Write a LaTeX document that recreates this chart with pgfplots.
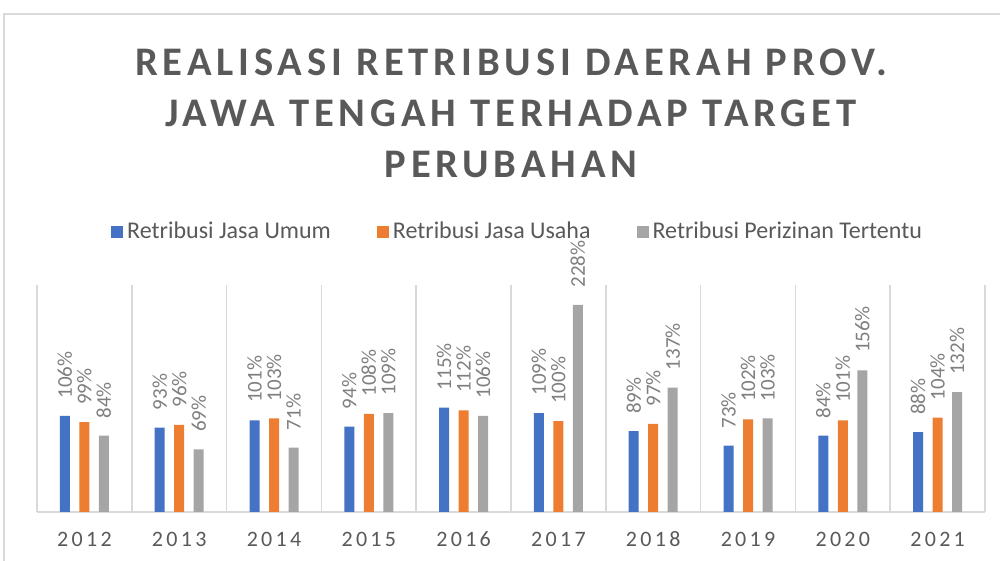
\documentclass[border=0pt]{standalone}
\usepackage{fontspec}
\setmainfont{Carlito}
\newfontfamily\titlefont[LetterSpace=12]{Carlito}
\newfontfamily\tickfont[LetterSpace=15]{Carlito}
\usepackage{pgfplots}
\pgfplotsset{compat=1.18}
\definecolor{cblue}{HTML}{4472C4}
\definecolor{corange}{HTML}{ED7D31}
\definecolor{cgray}{HTML}{A5A5A5}
\definecolor{textgray}{HTML}{595959}
\definecolor{labelgray}{HTML}{7F7F7F}
\definecolor{gridgray}{HTML}{D9D9D9}

\begin{document}
\begin{tikzpicture}[x=0.5pt,y=0.5pt]
  \useasboundingbox (0,0) rectangle (1000,561);
  \draw[gridgray, line width=0.6pt] (4,0) -- (4,547) -- (1000,547);
  % title, one node per line
  \node[anchor=base, text=textgray, font=\titlefont\bfseries\fontsize{20.3}{24}\selectfont] at (511,485) {REALISASI RETRIBUSI DAERAH PROV.};
  \node[anchor=base, text=textgray, font=\titlefont\bfseries\fontsize{20.3}{24}\selectfont] at (511,434) {JAWA TENGAH TERHADAP TARGET};
  \node[anchor=base, text=textgray, font=\titlefont\bfseries\fontsize{20.3}{24}\selectfont] at (511,383) {PERUBAHAN};

  \begin{axis}[
    at={(18.5pt,24.5pt)}, anchor=south west,
    scale only axis,
    width=474pt, height=113.5pt,
    ybar=4.75pt, bar width=5pt,
    xmin=-0.5, xmax=9.5, ymin=0, ymax=250,
    axis y line=none, axis x line*=bottom,
    x axis line style={gridgray, line width=1pt},
    xtick={0,...,9},
    xticklabels={2012,2013,2014,2015,2016,2017,2018,2019,2020,2021},
    major tick length=0pt, minor tick length=0pt,
    minor xtick={-0.5,0.5,...,9.5},
    xminorgrids=true,
    minor grid style={gridgray, line width=0.75pt},
    xticklabel style={font=\tickfont\fontsize{11}{13}\selectfont, text=textgray, anchor=base, yshift=-17.5pt},
    clip=false,
    legend columns=3,
    legend style={draw=none, fill=none, at={(0.508,1.233)}, anchor=center,
      font=\fontsize{12}{14}\selectfont, text=textgray,
      /tikz/every even column/.append style={column sep=21pt}},
    legend image code/.code={\fill[#1] (0pt,-3pt) rectangle (6pt,3pt);},
    nodes near coords={\pgfmathprintnumber{\pgfplotspointmeta}\%},
    /pgf/number format/assume math mode=true,
    every node near coord/.append style={rotate=90, anchor=west,
      font=\fontsize{10.5}{12}\selectfont, text=labelgray,
      inner xsep=8.5pt, inner ysep=0pt},
  ]
    \addplot[fill=cblue, draw=none] coordinates {(0,106) (1,93) (2,101) (3,94) (4,115) (5,109) (6,89) (7,73) (8,84) (9,88)};
    \addplot[fill=corange, draw=none] coordinates {(0,99) (1,96) (2,103) (3,108) (4,112) (5,100) (6,97) (7,102) (8,101) (9,104)};
    \addplot[fill=cgray, draw=none] coordinates {(0,84) (1,69) (2,71) (3,109) (4,106) (5,228) (6,137) (7,103) (8,156) (9,132)};
    \legend{Retribusi Jasa Umum, Retribusi Jasa Usaha, Retribusi Perizinan Tertentu}
  \end{axis}
\end{tikzpicture}
\end{document}
